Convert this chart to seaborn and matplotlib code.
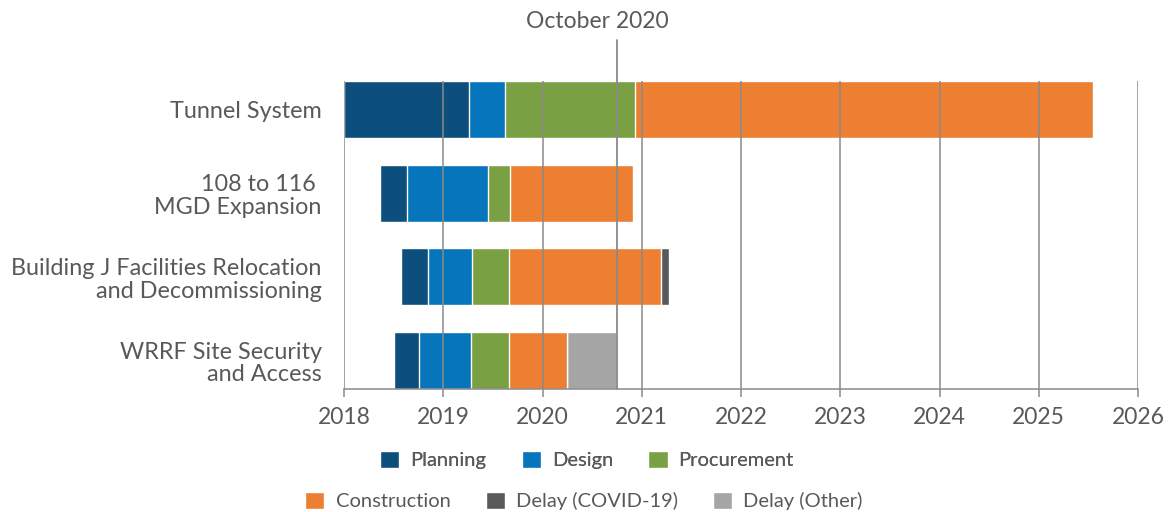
import matplotlib
matplotlib.use("Agg")
import matplotlib.pyplot as plt
from matplotlib.patches import Patch
import seaborn as sns
import pandas as pd
import numpy as np

projects = ["Tunnel System", "108 to 116 \nMGD Expansion",
            "Building J Facilities Relocation\nand Decommissioning",
            "WRRF Site Security\nand Access"]
start = [2018.0, 2018.36, 2018.57, 2018.50]
planning = [1.26, 0.27, 0.28, 0.26]
design = [0.36, 0.82, 0.44, 0.52]
procurement = [1.31, 0.22, 0.37, 0.38]
construction = [4.62, 1.24, 1.53, 0.59]
delay_covid = [0.0, 0.0, 0.08, 0.0]
delay_other = [0.0, 0.0, 0.0, 0.50]
phase_names = ["Planning", "Design", "Procurement", "Construction",
               "Delay (COVID-19)", "Delay (Other)"]
phase_colors = ["#0d4f7c", "#0675bb", "#79a042", "#ec7f32", "#58595b", "#a5a5a5"]
years = list(range(2018, 2027))
status_date = 2020.75
status_label = "October 2020"

sns.set_theme(style="white")
plt.rcParams["font.family"] = ["Lato", "DejaVu Sans"]
text_color = "#595959"

fig = plt.figure(figsize=(11.68, 5.12), dpi=100)
ax = fig.add_axes([344 / 1168, 1 - 389 / 512, (1138 - 344) / 1168, (389 - 81) / 512])

durations = [planning, design, procurement, construction, delay_covid, delay_other]
cum = np.array(start, dtype=float)
ends = []
for d in durations:
    cum = cum + np.array(d)
    ends.append(cum.copy())

# layered drawing: longest cumulative first
for i in range(len(durations) - 1, -1, -1):
    df = pd.DataFrame({"project": projects, "end": ends[i]})
    sns.barplot(data=df, x="end", y="project", color=phase_colors[i],
                orient="h", width=0.68, saturation=1, ax=ax, zorder=1)
# white mask before the start
df0 = pd.DataFrame({"project": projects, "end": start})
sns.barplot(data=df0, x="end", y="project", color="white",
            orient="h", width=0.68, saturation=1, ax=ax, zorder=1)

ax.set_xlim(2018, 2026)
ax.set_ylim(3.34, -0.34)
ax.set_xticks(years)
ax.set_xticklabels([str(y) for y in years])
ax.set_xlabel("")
ax.set_ylabel("")
for y in years:
    ax.axvline(y, color="#8a8a8a", lw=1.1, zorder=3)
ax.axvline(status_date, ymin=0, ymax=1 + 41 / 308, color="#8a8a8a", lw=1.3,
           zorder=3, clip_on=False)
fig.text(597 / 1168, 1 - 21 / 512, status_label, ha="center", va="center",
         fontsize=16.5, color=text_color)

for s in ["top", "right", "left"]:
    ax.spines[s].set_visible(False)
ax.spines["bottom"].set_color("#8a8a8a")
ax.spines["bottom"].set_linewidth(1.1)
ax.tick_params(axis="x", bottom=True, length=6, color="#8a8a8a", width=1.1,
               labelsize=16.5, labelcolor=text_color, pad=7)
ax.tick_params(axis="y", left=False, length=0, labelsize=16.8, labelcolor=text_color, pad=16)
for lab in ax.get_yticklabels():
    lab.set_multialignment("right")
    lab.set_linespacing(1.1)

h1 = [Patch(facecolor=phase_colors[i], label=phase_names[i]) for i in range(3)]
h2 = [Patch(facecolor=phase_colors[i], label=phase_names[i]) for i in range(3, 6)]
leg_kw = dict(ncol=3, frameon=False, fontsize=14.5, handlelength=0.95, handleheight=0.95,
              handletextpad=0.55, labelcolor=text_color)
l1 = fig.legend(handles=h1, loc="center", bbox_to_anchor=(587 / 1168, 1 - 460 / 512),
                columnspacing=1.75, **leg_kw)
fig.add_artist(l1)
fig.legend(handles=h2, loc="center", bbox_to_anchor=(584 / 1168, 1 - 501 / 512),
           columnspacing=1.75, **leg_kw)

fig.savefig("out.png", dpi=100)
